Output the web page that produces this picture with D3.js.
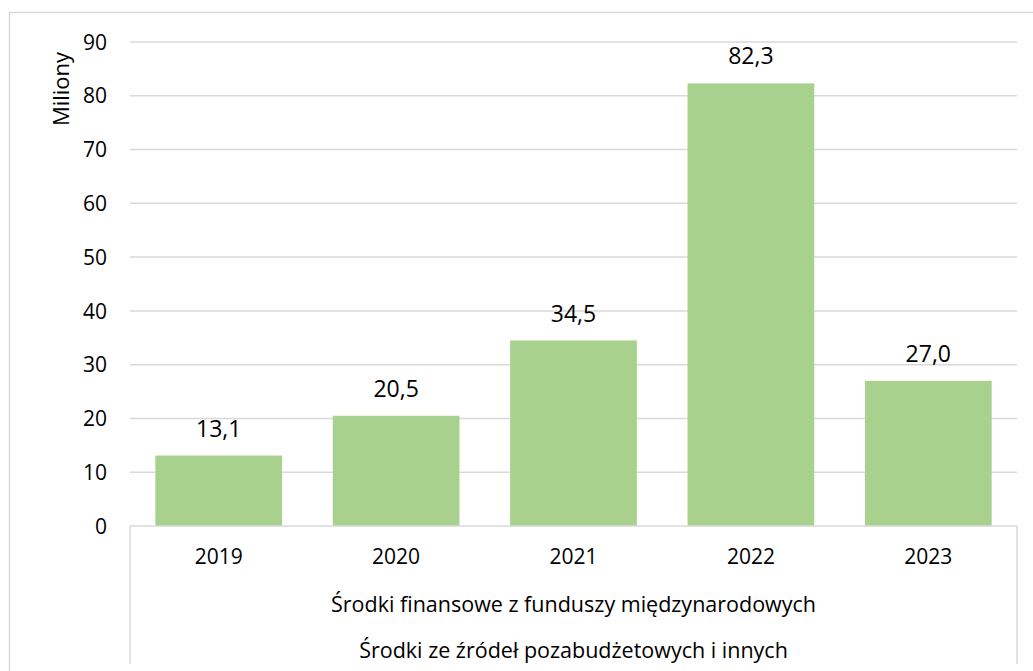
<!DOCTYPE html>
<html><head><meta charset="utf-8">
<script src="https://cdn.jsdelivr.net/npm/d3@7"></script>
<style>body{margin:0;background:#fff;} svg{display:block;} text{font-family:"Open Sans",sans-serif;fill:#000;}</style>
</head><body>
<svg id="c" width="1033" height="671"></svg>
<script>
const categories = ["2019","2020","2021","2022","2023"];
const values = [13.1, 20.5, 34.5, 82.3, 27.0];
const yTicks = [0,10,20,30,40,50,60,70,80,90];
const groupLabels = ["Środki finansowe z funduszy międzynarodowych","Środki ze źródeł pozabudżetowych i innych"];
const yTitle = "Miliony";

const svg = d3.select("#c");
const L=130, R=1017, T=42, B=526;
const x = d3.scaleBand().domain(categories).range([L,R]).paddingInner(0).paddingOuter(0);
const step = x.bandwidth();
const bw = step/1.4; // Excel gap width 40%
const y = d3.scaleLinear().domain([0,90]).range([B,T]);
const grid = "#d9d9d9";

// outer border
svg.append("path").attr("d",`M9.5,${671+5} V12.5 H${1033+5}`).attr("fill","none").attr("stroke",grid).attr("stroke-width",1.5);

// gridlines
svg.append("g").selectAll("line").data(yTicks.filter(d=>d>0)).join("line")
 .attr("x1",L).attr("x2",R).attr("y1",d=>y(d)).attr("y2",d=>y(d))
 .attr("stroke",grid).attr("stroke-width",1.5);

// bars
svg.append("g").selectAll("rect").data(values).join("rect")
 .attr("x",(d,i)=>x(categories[i])+(step-bw)/2).attr("width",bw)
 .attr("y",d=>y(d)).attr("height",d=>B-y(d)).attr("fill","#a9d18e");

// x axis line & category box lines
svg.append("line").attr("x1",L).attr("x2",R).attr("y1",B).attr("y2",B).attr("stroke",grid).attr("stroke-width",1.5);
svg.append("line").attr("x1",L).attr("x2",L).attr("y1",B).attr("y2",664).attr("stroke",grid).attr("stroke-width",1.5);
svg.append("line").attr("x1",R).attr("x2",R).attr("y1",B).attr("y2",664).attr("stroke",grid).attr("stroke-width",1.5);

// y tick labels
const yAxis = d3.axisLeft(y).tickValues(yTicks).tickSize(0).tickPadding(0);
const ga = svg.append("g").attr("transform",`translate(${L-23},0)`).call(yAxis);
ga.select(".domain").remove();
ga.selectAll("text").attr("font-size","21px").attr("font-family","'Open Sans',sans-serif").attr("fill","#000").attr("dy","0.34em").attr("text-anchor","end");

// category labels
svg.append("g").selectAll("text").data(categories).join("text")
 .attr("x",d=>x(d)+step/2).attr("y",557).attr("dy","0.35em").attr("text-anchor","middle").attr("font-size","21px").text(d=>d);

// group labels
svg.append("g").selectAll("text").data(groupLabels).join("text")
 .attr("x",(L+R)/2).attr("y",(d,i)=>[604,650][i]).attr("dy","0.35em").attr("text-anchor","middle").attr("font-size","21.5px").text(d=>d);

// data labels
const fmt = d=>d.toFixed(1).replace(".",",");
svg.append("g").selectAll("text").data(values).join("text")
 .attr("x",(d,i)=>x(categories[i])+step/2).attr("y",d=>y(d)-27).attr("dy","0.35em").attr("text-anchor","middle").attr("font-size","23px").text(fmt);

// y title
svg.append("text").attr("transform","translate(61,89) rotate(-90)").attr("dy","0.35em").attr("text-anchor","middle").attr("font-size","22px").text(yTitle);
</script>
</body></html>
